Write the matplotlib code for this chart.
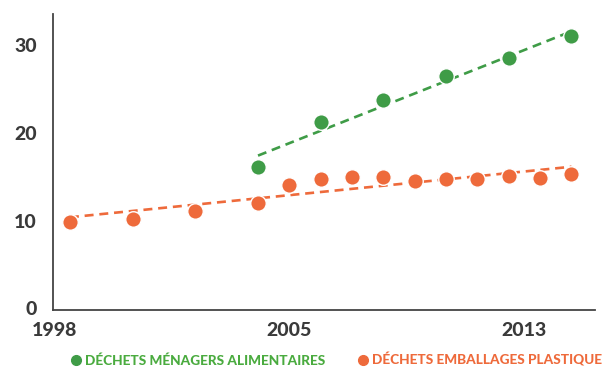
import numpy as np
import matplotlib
matplotlib.use('Agg')
import matplotlib.pyplot as plt
from matplotlib.lines import Line2D

plt.rcParams['font.family'] = ['Lato', 'DejaVu Sans']

# food waste series (every two years)
years_food = [2004, 2006, 2008, 2010, 2012, 2014]
food_waste = [16.1, 21.2, 23.7, 26.5, 28.5, 31.0]

# plastic packaging series
years_plastic = [1998, 2000, 2002, 2004, 2005, 2006, 2007, 2008, 2009, 2010, 2011, 2012, 2013, 2014]
plastic_waste = [9.8, 10.2, 11.1, 12.0, 14.1, 14.7, 15.0, 15.0, 14.5, 14.7, 14.7, 15.1, 14.9, 15.3]

x_ticklabels = ['1998', '2005', '2013']
y_ticks = [0, 10, 20, 30]
labels = ['DÉCHETS MÉNAGERS ALIMENTAIRES', 'DÉCHETS EMBALLAGES PLASTIQUE']

green = '#3f9c47'
green_txt = '#4aab3f'
orange = '#ee6a3b'
dark = '#3a3a3a'

fig = plt.figure(figsize=(6.05, 3.69), dpi=100)
ax = fig.add_axes([53/605, 59/369, 542/605, 296/369])

# linear trends
for xs, ys, c in [(years_food, food_waste, green), (years_plastic, plastic_waste, orange)]:
    xs = np.array(xs, dtype=float)
    k, b = np.polyfit(xs, ys, 1)
    xl = np.array([xs.min(), xs.max()])
    ax.plot(xl, k*xl + b, color=c, lw=1.9, dashes=(3.4, 2.2), zorder=2)

ax.scatter(years_food, food_waste, s=125, color=green, edgecolor='white', linewidth=1.0, zorder=3)
ax.scatter(years_plastic, plastic_waste, s=125, color=orange, edgecolor='white', linewidth=1.0, zorder=3)

ax.set_xlim(1997.46, 2014.75)
ax.set_ylim(-0.19, 33.56)

xl0 = ax.get_xlim()[0]
ax.set_xticks([xl0 + 0.04, 2005, 2012.5])
ax.set_xticklabels(x_ticklabels)
ax.set_yticks(y_ticks)

ax.tick_params(axis='both', length=0, labelsize=14, labelcolor=dark)
ax.tick_params(axis='y', pad=11.5)
ax.tick_params(axis='x', pad=9)
for lab in ax.get_xticklabels() + ax.get_yticklabels():
    lab.set_fontweight('black')

for s in ['top', 'right']:
    ax.spines[s].set_visible(False)
for s in ['left', 'bottom']:
    ax.spines[s].set_color('#444444')
    ax.spines[s].set_linewidth(1.3)

handles = [Line2D([], [], marker='o', ls='none', color=green, markersize=7),
           Line2D([], [], marker='o', ls='none', color=orange, markersize=7)]
leg = fig.legend(handles, labels, loc='center left', bbox_to_anchor=(72/605, 1 - 360/369),
                 ncol=2, frameon=False, handlelength=0.6, handletextpad=0.35,
                 columnspacing=2.5, borderpad=0, borderaxespad=0,
                 prop={'weight': 'black', 'size': 9.8})
for t, c in zip(leg.get_texts(), [green_txt, orange]):
    t.set_color(c)

fig.savefig('out.png', dpi=100)
